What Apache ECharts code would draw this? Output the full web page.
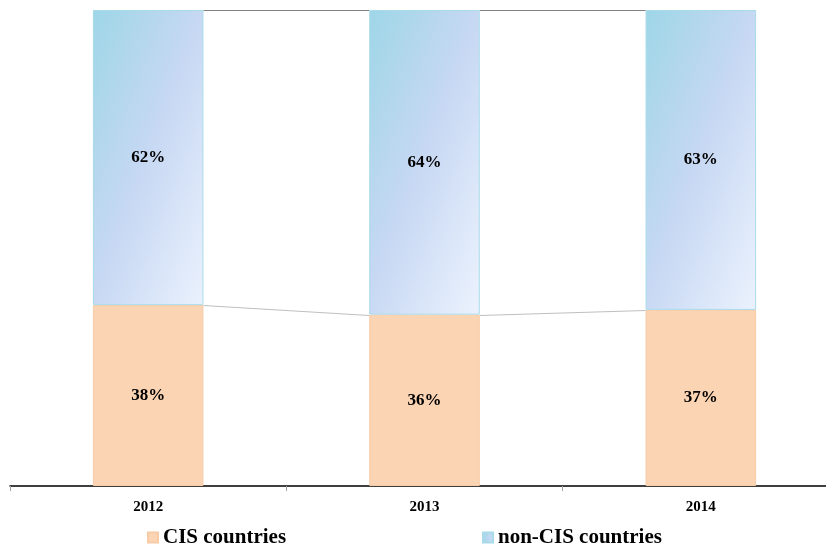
<!DOCTYPE html>
<html>
<head>
<meta charset="utf-8">
<script src="https://cdn.jsdelivr.net/npm/echarts@6/dist/echarts.min.js"></script>
<style>
html,body{margin:0;padding:0;background:#fff;overflow:hidden;}
#chart{width:839px;height:550px;}
</style>
</head>
<body>
<div id="chart"></div>
<script>
const categories = ['2012', '2013', '2014'];
const cisValues = [38, 36, 37];
const nonCisValues = [62, 64, 63];
const seriesNames = ['CIS countries', 'non-CIS countries'];

const FONT = '"Liberation Serif", "Times New Roman", serif';
const BAR_RATIO = 0.4;

const topTotals = categories.map((c, i) => cisValues[i] + nonCisValues[i]);

function pairData(vals) {
  const out = [];
  for (let i = 0; i < vals.length - 1; i++) out.push([i, vals[i], vals[i + 1]]);
  return out;
}

function seriesLineRenderer(color) {
  return function (params, api) {
    const i = api.value(0);
    const p1 = api.coord([i, api.value(1)]);
    const p2 = api.coord([i + 1, api.value(2)]);
    const bw = api.size([1, 0])[0] * BAR_RATIO;
    return {
      type: 'line',
      shape: { x1: p1[0] + bw / 2, y1: Math.round(p1[1]) + 0.5, x2: p2[0] - bw / 2, y2: Math.round(p2[1]) + 0.5 },
      style: { stroke: color, lineWidth: 1 }
    };
  };
}

const blueGrad = new echarts.graphic.LinearGradient(0, 0, 1.75, 0.25, [
  { offset: 0, color: '#9ED6E7' },
  { offset: 0.5, color: '#C7D8F3' },
  { offset: 1, color: '#EAF1FD' }
]);

const legendText = { fontFamily: FONT, fontWeight: 'bold', fontSize: 21, color: '#000' };

const chart = echarts.init(document.getElementById('chart'), null, { renderer: 'canvas' });
chart.setOption({
  animation: false,
  backgroundColor: '#ffffff',
  grid: { left: 10, right: 0, top: 10, bottom: 64, containLabel: false },
  legend: [
    {
      data: [seriesNames[0]], left: 147, top: 527, padding: 0, itemWidth: 10, itemHeight: 10, icon: 'rect',
      textStyle: legendText
    },
    {
      data: [seriesNames[1]], left: 482, top: 527, padding: 0, itemWidth: 10, itemHeight: 10, icon: 'rect',
      textStyle: legendText
    }
  ],
  xAxis: {
    type: 'category',
    data: categories,
    axisLine: { lineStyle: { color: '#000', width: 1.5 } },
    axisTick: { show: true, length: 5, lineStyle: { color: '#a0a0a0' } },
    axisLabel: { margin: 14, fontFamily: FONT, fontWeight: 'bold', fontSize: 15, color: '#000' },
    splitLine: { show: false }
  },
  yAxis: { type: 'value', min: 0, max: 100, show: false, splitLine: { show: false } },
  series: [
    {
      name: seriesNames[0], type: 'bar', stack: 'total', barWidth: '40%',
      data: cisValues,
      itemStyle: { color: '#FBD4B4', borderColor: '#F7CBA6', borderWidth: 1 },
      label: { show: true, position: 'inside', formatter: '{c}%', fontFamily: FONT, fontWeight: 'bold', fontSize: 17, color: '#000' }
    },
    {
      name: seriesNames[1], type: 'bar', stack: 'total', barWidth: '40%',
      data: nonCisValues,
      itemStyle: { color: blueGrad, borderColor: '#A8DBEA', borderWidth: 1 },
      label: { show: true, position: 'inside', formatter: '{c}%', fontFamily: FONT, fontWeight: 'bold', fontSize: 17, color: '#000' }
    },
    {
      type: 'custom', silent: true, z: 1,
      renderItem: seriesLineRenderer('#bfbfbf'),
      data: pairData(cisValues),
      encode: { x: 0, y: [1, 2] }
    },
    {
      type: 'custom', silent: true, z: 1,
      renderItem: seriesLineRenderer('#808080'),
      data: pairData(topTotals),
      encode: { x: 0, y: [1, 2] }
    }
  ]
});
</script>
</body>
</html>
